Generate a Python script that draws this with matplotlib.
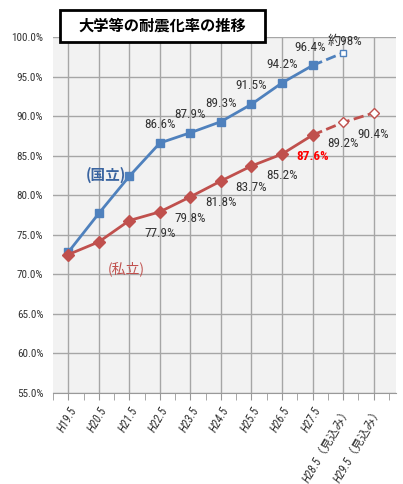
# -*- coding: utf-8 -*-
import matplotlib
matplotlib.use('Agg')
import matplotlib.pyplot as plt
from matplotlib.patches import Rectangle
from matplotlib.ticker import FuncFormatter, MultipleLocator

plt.rcParams['font.family'] = ['Liberation Sans Narrow', 'Roboto Condensed', 'PT Sans Narrow',
                               'Noto Sans CJK JP', 'DejaVu Sans']

years = ["H19.5", "H20.5", "H21.5", "H22.5", "H23.5", "H24.5", "H25.5",
         "H26.5", "H27.5", "H28.5（見込み）", "H29.5（見込み）"]
kokuritsu = [72.8, 77.7, 82.4, 86.6, 87.9, 89.3, 91.5, 94.2, 96.4]
kokuritsu_est = [96.4, 98.0]
shiritsu = [72.5, 74.1, 76.8, 77.9, 79.8, 81.8, 83.7, 85.2, 87.6]
shiritsu_est = [87.6, 89.2, 90.4]

blue = '#4f81bd'
red = '#c0504d'
txt = '#333333'

fig = plt.figure(figsize=(4.03, 4.84), dpi=100)
ax = fig.add_axes([0.1315, 0.188, 0.851, 0.7356])
ax.set_facecolor('#f2f2f2')

x = list(range(len(years)))
n = len(kokuritsu)

ax.plot(x[:n], kokuritsu, '-', color=blue, lw=2, marker='s', ms=6, zorder=4)
ax.plot(x[n - 1:n + 1], kokuritsu_est, '--', color=blue, lw=2, zorder=3)
ax.plot(x[n], kokuritsu_est[-1], 's', mfc='white', mec=blue, ms=5, zorder=4)

ax.plot(x[:n], shiritsu, '-', color=red, lw=2, marker='D', ms=6, zorder=4)
ax.plot(x[n - 1:n + 2], shiritsu_est, '--', color=red, lw=2, zorder=3)
ax.plot(x[n:n + 2], shiritsu_est[1:], 'D', mfc='white', mec=red, ms=5, zorder=4)

# data labels
fs = 9.5
for i in range(3, n):
    dx = -0.08 if i == n - 1 else 0
    ax.text(x[i] + dx, kokuritsu[i] + 1.5, "%.1f%%" % kokuritsu[i], ha='center', va='bottom',
            fontsize=fs, color=txt)
ax.text(x[n] + 0.07, 98.6, "約98%", ha='center', va='bottom', fontsize=fs, color=txt)

for i in range(3, n - 1):
    ax.text(x[i], shiritsu[i] - 1.9, "%.1f%%" % shiritsu[i], ha='center', va='top',
            fontsize=fs, color=txt)
ax.text(x[n - 1], shiritsu[n - 1] - 1.9, "%.1f%%" % shiritsu[n - 1], ha='center', va='top',
        fontsize=fs, color='#ff0000', fontweight='bold')
ax.text(x[n], shiritsu_est[1] - 1.9, "%.1f%%" % shiritsu_est[1], ha='center', va='top',
        fontsize=fs, color=txt)
ax.text(x[n + 1], shiritsu_est[2] - 1.9, "%.1f%%" % shiritsu_est[2], ha='center', va='top',
        fontsize=fs, color=txt)

ax.text(1.22, 82.6, "(国立)", ha='center', va='center', fontsize=10.5, color='#3a64a0',
        fontweight='bold', family=['Noto Sans CJK JP'], zorder=5)
ax.text(1.9, 70.7, "(私立)", ha='center', va='center', fontsize=10, color=red,
        family=['Noto Sans CJK JP'], zorder=5)

ax.set_ylim(55, 100)
ax.set_xlim(-0.22, 10.73)
ax.yaxis.set_major_locator(MultipleLocator(5))
ax.yaxis.set_major_formatter(FuncFormatter(lambda v, p: "%.1f%%" % v))
ax.set_xticks(x)
ax.set_xticklabels(years, rotation=60, ha='right', rotation_mode='anchor',
                   fontsize=8.5, color=txt, style='italic')
ax.set_xticks([i + 0.5 for i in range(-1, len(years))], minor=True)
ax.tick_params(axis='y', length=0, labelsize=8, labelcolor=txt, pad=7)
ax.tick_params(axis='x', which='both', length=5, color='#999999', direction='out', pad=3)

ax.grid(True, color='#a6a6a6', lw=1)
ax.set_axisbelow(True)
for s in ['top', 'right', 'left']:
    ax.spines[s].set_visible(False)
ax.spines['bottom'].set_color('#999999')

# title box
fig.patches.append(Rectangle((0.149, 0.913), 0.509, 0.066, transform=fig.transFigure,
                             fc='white', ec='black', lw=2, zorder=10))
fig.text(0.4035, 0.946, "大学等の耐震化率の推移", ha='center', va='center', fontsize=11,
         fontweight='bold', family=['Noto Sans CJK JP'], zorder=11)

plt.savefig('out.png', dpi=100)
